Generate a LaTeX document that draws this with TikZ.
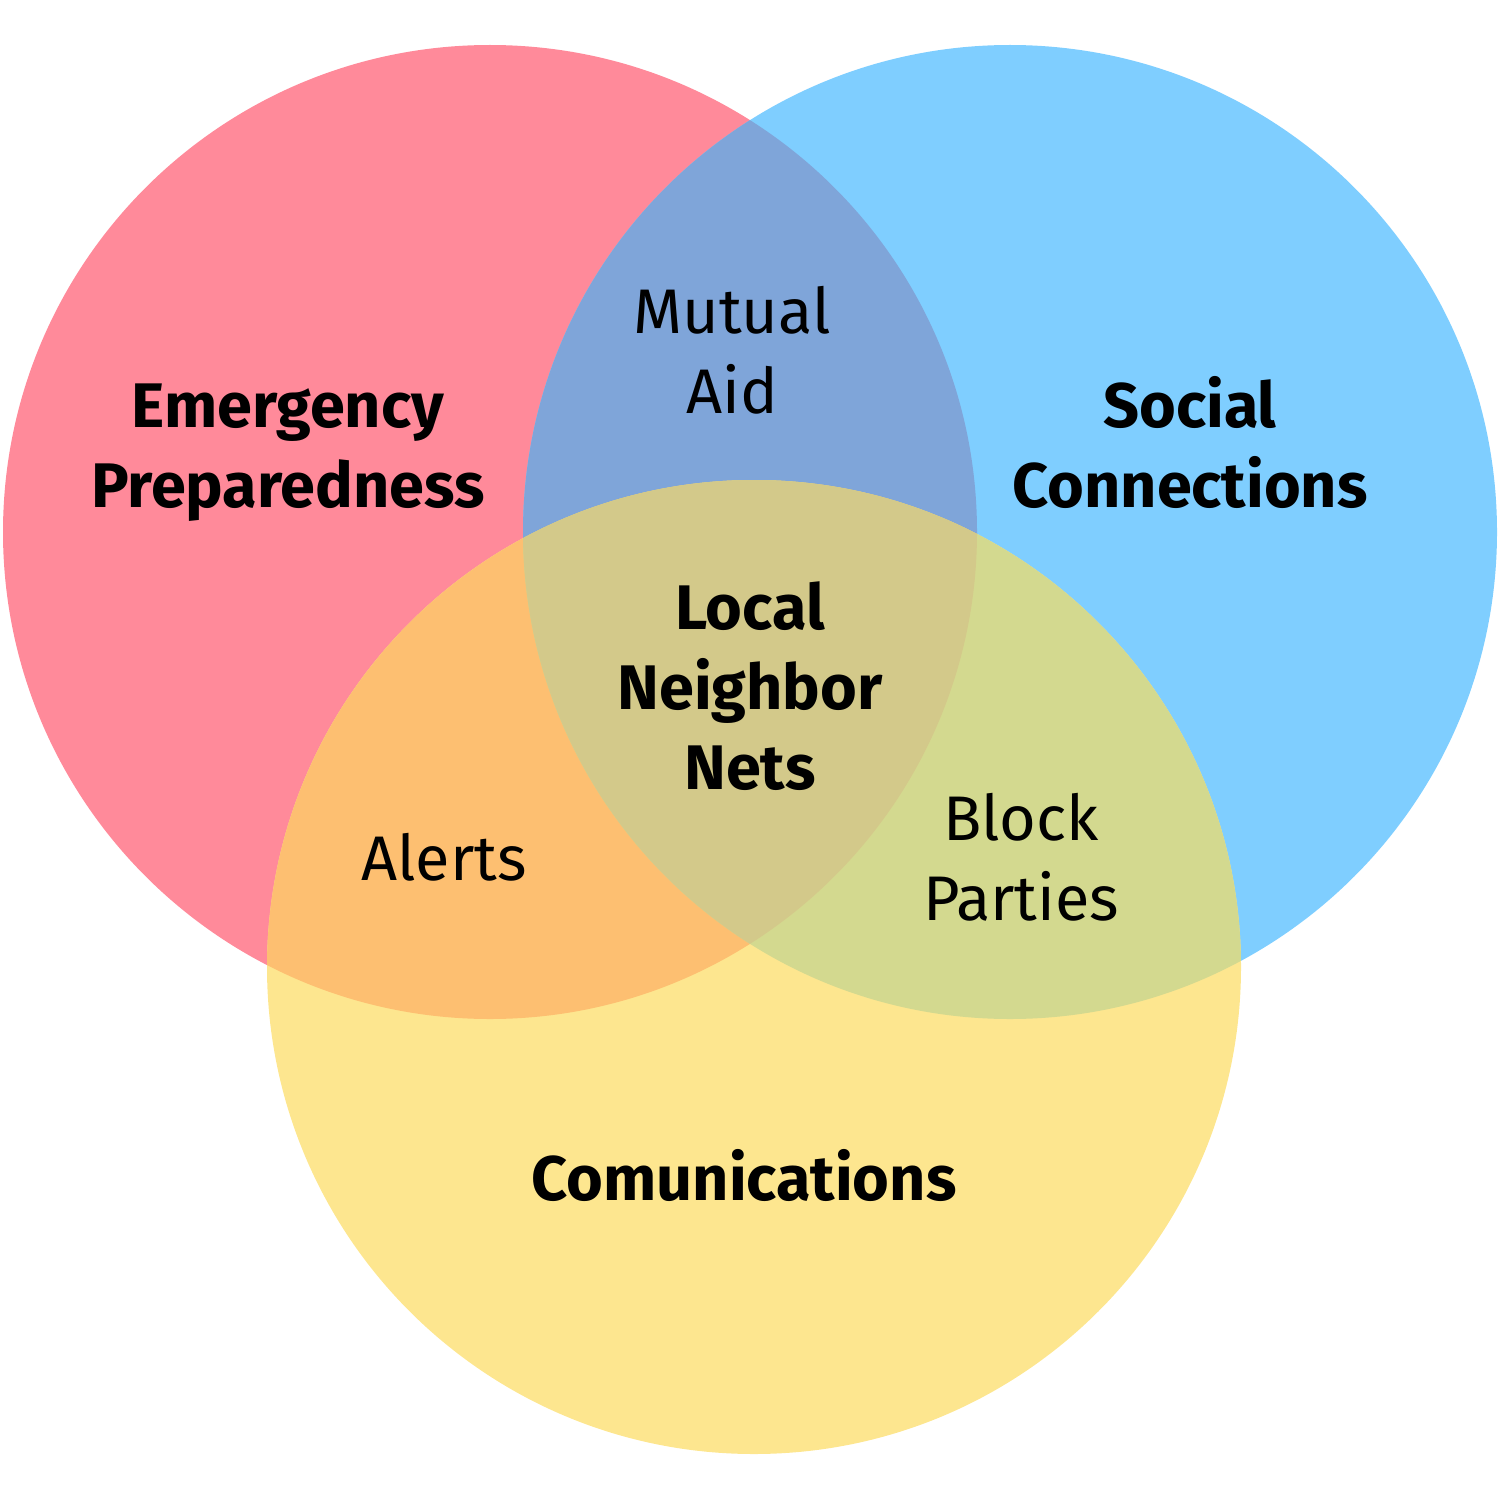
\documentclass[tikz,border=0pt]{standalone}
\usepackage{fontspec}
\setmainfont{Fira Sans}
\definecolor{cred}{HTML}{FF8A9A}
\definecolor{cblue}{HTML}{7FCEFF}
\definecolor{cyel}{HTML}{FDE68F}
\definecolor{crb}{HTML}{7FA5D9}
\definecolor{cry}{HTML}{FDBF71}
\definecolor{cby}{HTML}{D3D98F}
\definecolor{crby}{HTML}{D3C98A}
\tikzset{
  lbl/.style={align=center, anchor=base, inner sep=0pt, font=\fontsize{63bp}{80bp}\selectfont},
  blbl/.style={lbl, font=\fontsize{63bp}{80bp}\selectfont\bfseries}
}
\begin{document}
\begin{tikzpicture}[x=1bp,y=-1bp]
\useasboundingbox (0,0) rectangle (1500,1500);
\def\R{487}
\coordinate (cr) at (490,532);
\coordinate (cb) at (1010,532);
\coordinate (cy) at (754,967);
\fill[cred] (cr) circle (\R);
\fill[cblue] (cb) circle (\R);
\fill[cyel] (cy) circle (\R);
\begin{scope}
  \clip (cr) circle (\R);
  \fill[crb] (cb) circle (\R);
  \fill[cry] (cy) circle (\R);
\end{scope}
\begin{scope}
  \clip (cb) circle (\R);
  \fill[cby] (cy) circle (\R);
\end{scope}
\begin{scope}
  \clip (cr) circle (\R);
  \clip (cb) circle (\R);
  \fill[crby] (cy) circle (\R);
\end{scope}
\node[blbl] (ep) at (288,507) {Emergency\\Preparedness};
\node[blbl] (sc) at (1190,507) {Social\\Connections};
\node[lbl] (ma) at (732,413) {Mutual\\Aid};
\node[blbl] (ln) at (750,789) {Local\\Neighbor\\Nets};
\node[lbl] (al) at (444,880) {Alerts};
\node[lbl] (bp) at (1021,920) {Block\\Parties};
\node[blbl] (co) at (744,1200) {Comunications};
\end{tikzpicture}
\end{document}
